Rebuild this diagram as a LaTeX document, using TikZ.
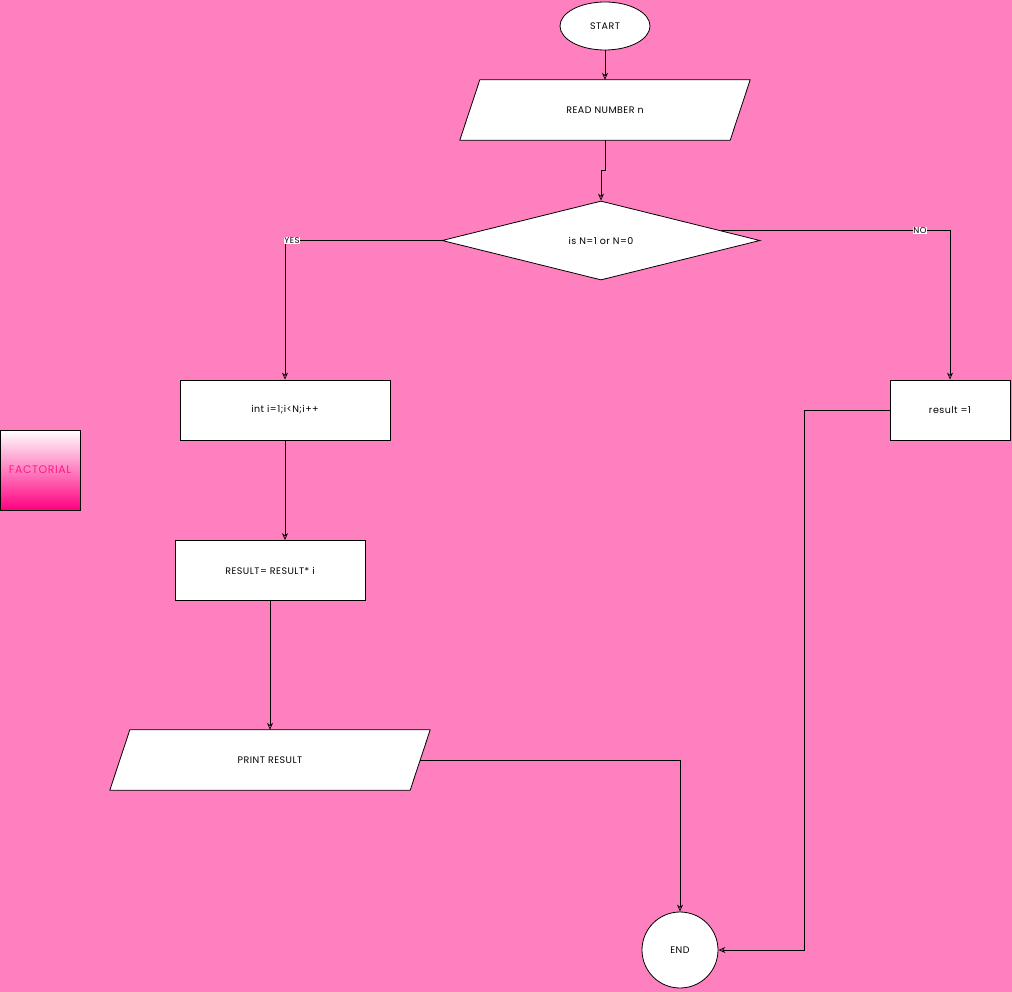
\documentclass[tikz,border=0pt]{standalone}
\usepackage{fontspec}
\setmainfont[LetterSpace=5]{Poppins}
\usetikzlibrary{shapes.geometric,arrows.meta,calc}
\definecolor{bgpink}{HTML}{FF80BF}
\definecolor{deeppink}{HTML}{FF0080}
\definecolor{labelpink}{HTML}{FF1A8C}
\begin{document}
\begin{tikzpicture}[x=1pt,y=-1pt,
  every node/.style={font=\fontsize{9.5}{11}\selectfont, text=black},
  boxstyle/.style={draw=black, fill=white, line width=0.8pt},
  procbox/.style={boxstyle, rectangle, minimum height=60pt},
  iobody/.style={rectangle, minimum height=60pt, inner sep=0pt},
  iooutline/.style={draw=black, fill=white, line width=0.8pt, line join=round},
  flow/.style={draw=black, line width=0.7pt, -{Stealth[length=7pt,width=6pt,open]}},
  tag/.style={fill=white, inner sep=0.6pt, font=\fontsize{8.5}{9}\selectfont}]
  % canvas
  \fill[bgpink] (0,0) rectangle (1012,992);
  \useasboundingbox (0,0) rectangle (1012,992);

  % process and terminal nodes
  \node[boxstyle, ellipse, minimum width=90pt, minimum height=48pt, inner sep=0pt] (start) at (605,26) {START};
  \node[boxstyle, diamond, aspect=4, minimum width=318pt, minimum height=79pt, inner sep=0pt] (dec) at (601,240.5) {is N=1 or N=0};
  \node[procbox, minimum width=210pt] (loop) at (285,410) {int i=1;i<N;i++};
  \node[procbox, minimum width=190pt] (mult) at (270,570.5) {RESULT= RESULT* i};
  \node[procbox, minimum width=120pt] (one) at (950,410) {result =1};
  \node[boxstyle, circle, minimum size=76pt, inner sep=0pt] (end) at (680,950) {END};
  \node[draw=black, line width=0.8pt, rectangle, minimum width=80pt, minimum height=80pt,
        top color=white, bottom color=deeppink, text=labelpink,
        font=\fontsize{11}{12}\selectfont] (title) at (40,470) {FACTORIAL};

  % input/output parallelograms: outline slanted around a rectangular body
  \node[iobody, minimum width=270pt] (read) at (605,110) {};
  \draw[iooutline] ($(read.north west)+(10,0)$) -- ($(read.north east)+(10,0)$)
    -- ($(read.south east)+(-10,0)$) -- ($(read.south west)+(-10,0)$) -- cycle;
  \node at (read.center) {READ NUMBER n};
  \node[iobody, minimum width=300pt] (print) at (270,760) {};
  \draw[iooutline] ($(print.north west)+(10,0)$) -- ($(print.north east)+(10,0)$)
    -- ($(print.south east)+(-10,0)$) -- ($(print.south west)+(-10,0)$) -- cycle;
  \node at (print.center) {PRINT RESULT};

  % connectors
  \draw[flow] (start.south) -- (read.north -| start.south);
  \draw[flow] (read.south) -- ++(0,30) -| (dec.north);
  \draw[flow] (dec.west) -| (loop.north);
  \node[tag] (yes) at (292,240.5) {YES};
  \coordinate (noout) at ($(dec.east)!0.25!(dec.north)$);
  \draw[flow] (noout) -| (one.north);
  \node[tag] (no) at (920,230.5) {NO};
  \draw[flow] (loop.south) -- (mult.north -| loop.south);
  \draw[flow] (mult.south) -- (print.north);
  \draw[flow] (print.east) -| (end.north);
  \draw[flow] (one.west) -- ++(-85,0) |- (end.east);
\end{tikzpicture}
\end{document}
